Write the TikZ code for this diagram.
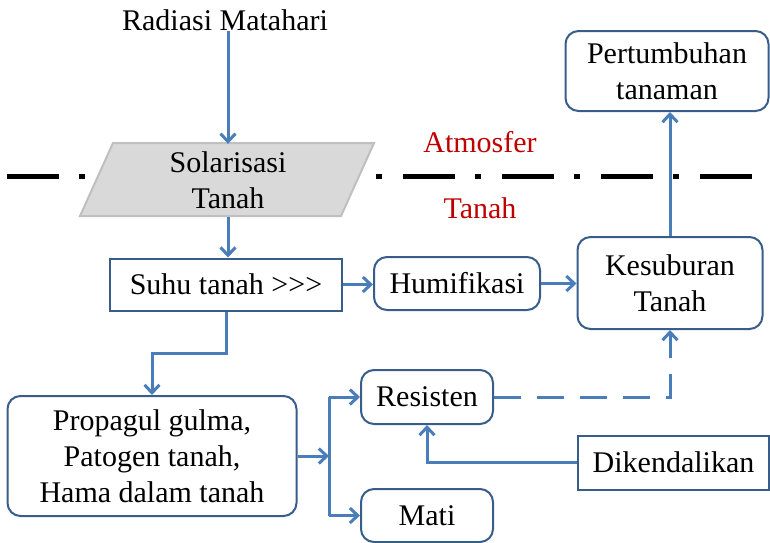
\documentclass[tikz,border=0pt]{standalone}
\usepackage{fontspec}
\setmainfont{Liberation Serif}
\usetikzlibrary{arrows.meta}
\definecolor{conn}{HTML}{4A7EBB}
\definecolor{boxb}{HTML}{385D8A}
\definecolor{redt}{HTML}{C00000}
\definecolor{grayf}{HTML}{D9D9D9}
\definecolor{grayb}{HTML}{BFBFBF}
\tikzset{
  txt/.style={font=\fontsize{30}{36}\selectfont, align=center, inner sep=0pt},
  sqbox/.style={txt, draw=boxb, line width=2pt, fill=white},
  rbox/.style={sqbox, rounded corners=13pt},
  arr/.style={draw=conn, line width=3pt, -{Straight Barb[length=8pt,width=15pt,line width=3pt]}},
  lin/.style={draw=conn, line width=3pt},
  lbl/.style={txt, text=redt}
}
\begin{document}
\begin{tikzpicture}[x=1pt,y=-1pt]
\useasboundingbox (0,0) rectangle (770,542);
% dash-dot boundary
\draw[line width=5pt, dash pattern=on 52pt off 20pt on 6pt off 21pt] (7,176) -- (770,176);
% labels
\node[txt] (rad) at (225,20) {Radiasi Matahari};
\node[lbl] (atm) at (480,142) {Atmosfer};
\node[lbl] (tnh) at (480,208) {Tanah};
% parallelogram
\draw[fill=grayf, draw=grayb, line width=2pt] (113,143) -- (374,143) -- (341,216) -- (80,216) -- cycle;
\node[txt, minimum width=200pt, minimum height=73pt] (sol) at (228,180.5) {Solarisasi\\Tanah};
% boxes
\node[sqbox, minimum width=232pt, minimum height=52pt] (suhu) at (226,284.5) {Suhu tanah >{}>{}>};
\node[rbox, minimum width=166pt, minimum height=53pt] (humi) at (457,283.5) {Humifikasi};
\node[rbox, minimum width=185pt, minimum height=92pt] (kes) at (670,283) {Kesuburan\\Tanah};
\node[rbox, minimum width=203pt, minimum height=80pt] (pert) at (667,71) {Pertumbuhan\\tanaman};
\node[rbox, minimum width=289pt, minimum height=120pt] (prop) at (152,456) {Propagul gulma,\\Patogen tanah,\\Hama dalam tanah};
\node[rbox, minimum width=132pt, minimum height=54pt] (res) at (427,397) {Resisten};
\node[rbox, minimum width=132pt, minimum height=53pt] (mati) at (427,515.5) {Mati};
\node[sqbox, minimum width=191pt, minimum height=54pt] (dik) at (673.5,462.5) {Dikendalikan};
% connectors
\draw[arr] (sol.north |- rad.south) -- (sol.north);
\draw[arr] (sol.south) -- (sol.south |- suhu.north);
\draw[arr] (suhu.east) -- (humi.west |- suhu.east);
\draw[arr] (humi.east) -- (kes.west |- humi.east);
\draw[arr] (kes.north) -- (pert.south -| kes.north);
\draw[arr] (suhu.south) -- ++(0,42) -| (prop.north);
\coordinate (brm) at (329,456);
\coordinate (brt) at (329,397);
\coordinate (brb) at (329,515.5);
\draw[arr] (prop.east) -- (brm);
\draw[lin] (brt) -- (brb);
\draw[arr] (brt) -- (res.west);
\draw[arr] (brb) -- (mati.west);
\draw[arr, dash pattern=on 27pt off 16pt] (res.east) -| (kes.south);
\draw[arr] (dik.west) -| (res.south);
\end{tikzpicture}
\end{document}
